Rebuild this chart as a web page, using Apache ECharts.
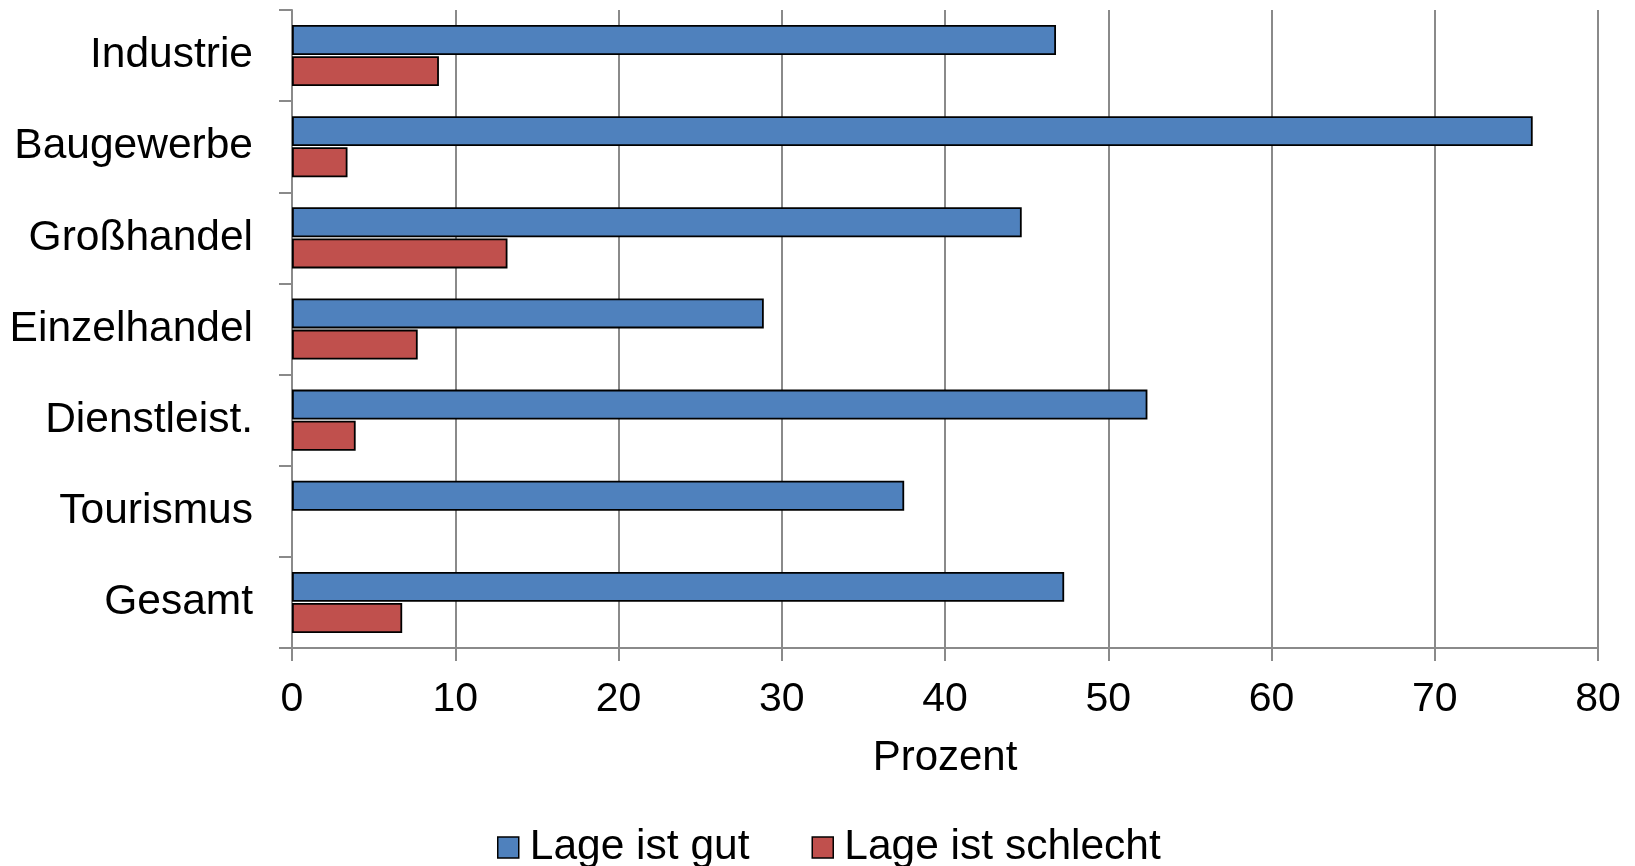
<!DOCTYPE html>
<html>
<head>
<meta charset="utf-8">
<script src="https://cdn.jsdelivr.net/npm/echarts@6/dist/echarts.min.js"></script>
<style>html,body{margin:0;padding:0;background:#fff;}#c{width:1635px;height:866px;}</style>
</head>
<body>
<div id="c"></div>
<script>
const categories = ['Industrie', 'Baugewerbe', 'Großhandel', 'Einzelhandel', 'Dienstleist.', 'Tourismus', 'Gesamt'];
const seriesNames = ['Lage ist gut', 'Lage ist schlecht'];
const lageGut = [46.8, 76.0, 44.7, 28.9, 52.4, 37.5, 47.3];
const lageSchlecht = [9.0, 3.4, 13.2, 7.7, 3.9, 0, 6.75];
const xTicks = [0, 10, 20, 30, 40, 50, 60, 70, 80];
const axisName = 'Prozent';

const font = '"Liberation Sans", Arial, sans-serif';
const hideZero = arr => arr.map(v => (v === 0 ? '-' : v));
const chart = echarts.init(document.getElementById('c'), null, {renderer: 'canvas'});
chart.setOption({
  animation: false,
  textStyle: {fontFamily: font},
  grid: {left: 292, right: 37, top: 10, bottom: 218, containLabel: false},
  legend: {
    data: seriesNames,
    left: 492, top: 821,
    icon: 'rect', itemWidth: 21, itemHeight: 21, itemGap: 62,
    itemStyle: {borderColor: '#000', borderWidth: 1.5},
    textStyle: {fontSize: 42.5, color: '#000', fontFamily: font, padding: [0, 0, 0, 6]}
  },
  xAxis: {
    type: 'value', min: xTicks[0], max: xTicks[xTicks.length - 1], interval: 10,
    name: axisName, nameLocation: 'middle', nameGap: 89,
    nameTextStyle: {fontSize: 42, color: '#000', fontFamily: font},
    axisLine: {show: true, lineStyle: {color: '#8a8a8a', width: 2}},
    axisTick: {show: true, length: 13, lineStyle: {color: '#8a8a8a', width: 2}},
    axisLabel: {fontSize: 41, color: '#000', margin: 31, fontFamily: font},
    splitLine: {show: true, lineStyle: {color: '#8a8a8a', width: 2}}
  },
  yAxis: {
    type: 'category', data: categories, inverse: true,
    axisLine: {show: true, lineStyle: {color: '#8a8a8a', width: 2}},
    axisTick: {show: true, length: 13, lineStyle: {color: '#8a8a8a', width: 2}},
    axisLabel: {fontSize: 42.5, color: '#000', margin: 39, fontFamily: font},
    splitLine: {show: false}
  },
  series: [
    {name: seriesNames[0], type: 'bar', data: hideZero(lageGut), barCategoryGap: '33%', barGap: '4%',
     itemStyle: {color: '#4F81BD', borderColor: '#000', borderWidth: 1.8}},
    {name: seriesNames[1], type: 'bar', data: hideZero(lageSchlecht), barCategoryGap: '33%', barGap: '4%',
     itemStyle: {color: '#C0504D', borderColor: '#000', borderWidth: 1.8}}
  ]
});
</script>
</body>
</html>
